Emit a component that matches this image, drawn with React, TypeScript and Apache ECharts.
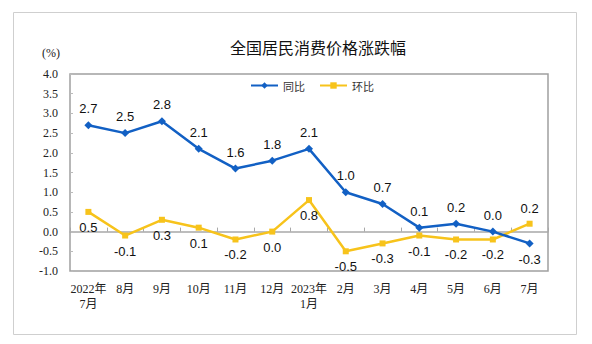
import React, { useEffect, useRef } from "react";
import * as echarts from "echarts";

const categories = ["2022年\n7月", "8月", "9月", "10月", "11月", "12月", "2023年\n1月", "2月", "3月", "4月", "5月", "6月", "7月"];
const yoy = [2.7, 2.5, 2.8, 2.1, 1.6, 1.8, 2.1, 1.0, 0.7, 0.1, 0.2, 0.0, -0.3];
const mom = [0.5, -0.1, 0.3, 0.1, -0.2, 0.0, 0.8, -0.5, -0.3, -0.1, -0.2, -0.2, 0.2];
const yoyLabelPos = ["top", "top", "top", "top", "top", "top", "top", "top", "top", "top", "top", "top", "bottom"];
const momLabelPos = ["bottom", "bottom", "bottom", "bottom", "bottom", "bottom", "bottom", "bottom", "bottom", "bottom", "bottom", "bottom", "top"];

const BLUE = "#1260c4";
const YELLOW = "#f7c31b";

export default function App() {
  const ref = useRef<HTMLDivElement>(null);
  useEffect(() => {
    const chart = echarts.init(ref.current!, null, { renderer: "svg" });
    const labelStyle = { fontFamily: "Liberation Sans, Arial, sans-serif", fontSize: 13, color: "#111" };
    chart.setOption({
      animation: false,
      backgroundColor: "#fff",
      title: {
        text: "全国居民消费价格涨跌幅",
        left: 313,
        textAlign: "center",
        top: 34,
        textStyle: { fontFamily: "Noto Sans CJK SC, sans-serif", fontSize: 16, fontWeight: "normal", color: "#111" },
      },
      graphic: [
        { type: "rect", shape: { x: 13.5, y: 12.5, width: 563, height: 322 }, style: { fill: "none", stroke: "#cfcfcf", lineWidth: 1 }, silent: true },
        { type: "text", x: 42, y: 47, style: { text: "(%)", fontFamily: "Liberation Serif, serif", fontSize: 12, fill: "#222" } },
      ],
      legend: {
        left: 245,
        top: 75,
        itemWidth: 27,
        itemHeight: 8,
        itemGap: 14,
        textStyle: { fontFamily: "Noto Sans CJK SC, sans-serif", fontSize: 11, color: "#333" },
        data: ["同比", "环比"],
      },
      grid: { left: 70, right: 44, top: 74, bottom: 73, show: true, borderColor: "#a0a0a0", borderWidth: 1.5, containLabel: false },
      xAxis: [
        {
          type: "category",
          data: categories,
          boundaryGap: true,
          position: "bottom",
          axisLine: { show: false, onZero: false },
          axisTick: { show: false },
          axisLabel: {
            interval: 0,
            margin: 10,
            lineHeight: 15,
            fontFamily: "Liberation Serif, Noto Sans CJK SC, serif",
            fontSize: 12,
            color: "#222",
          },
        },
        {
          type: "category",
          data: categories,
          boundaryGap: true,
          position: "bottom",
          axisLine: { show: true, onZero: true, lineStyle: { color: "#a8a8a8", width: 1.5 } },
          axisTick: { show: true, inside: true, length: 4, interval: 0, lineStyle: { color: "#a8a8a8" } },
          axisLabel: { show: false },
        },
      ],
      yAxis: {
        type: "value",
        min: -1,
        max: 4,
        interval: 0.5,
        axisLine: { show: false },
        axisTick: { show: true, inside: true, length: 3, lineStyle: { color: "#bbb" } },
        splitLine: { show: false },
        axisLabel: {
          margin: 12,
          formatter: (v: number) => v.toFixed(1),
          fontFamily: "Liberation Serif, serif",
          fontSize: 12,
          color: "#222",
        },
      },
      series: [
        {
          name: "同比",
          type: "line",
          xAxisIndex: 0,
          data: yoy.map((v, i) => ({ value: v, label: { position: yoyLabelPos[i] } })),
          symbol: "diamond",
          symbolSize: 8,
          itemStyle: { color: BLUE },
          lineStyle: { color: BLUE, width: 2.5 },
          label: { show: true, distance: 6, formatter: (p: any) => Number(p.value).toFixed(1), ...labelStyle },
          z: 3,
        },
        {
          name: "环比",
          type: "line",
          xAxisIndex: 0,
          data: mom.map((v, i) => ({ value: v, label: { position: momLabelPos[i] } })),
          symbol: "rect",
          symbolSize: 6,
          itemStyle: { color: YELLOW },
          lineStyle: { color: YELLOW, width: 2.5 },
          label: { show: true, distance: 6, formatter: (p: any) => Number(p.value).toFixed(1), ...labelStyle },
          z: 2,
        },
      ],
    });
    return () => chart.dispose();
  }, []);
  return <div ref={ref} style={{ position: "fixed", left: 0, top: 0, width: 592, height: 344 }} />;
}
